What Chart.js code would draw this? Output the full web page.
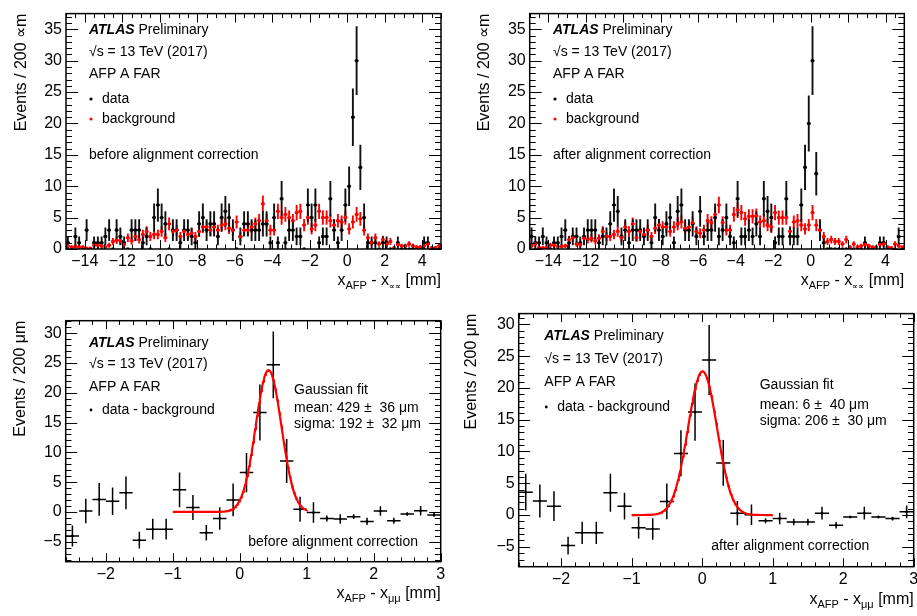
<!DOCTYPE html>
<html>
<head>
<meta charset="utf-8">
<script src="https://cdn.jsdelivr.net/npm/chart.js@4.4.0/dist/chart.umd.min.js"></script>
<style>
body { margin: 0; background: #fff; }
#wrap { position: relative; width: 917px; height: 616px; overflow: hidden; }
canvas { position: absolute; }
</style>
</head>
<body>
<div id="wrap">
  <canvas id="c1" width="458" height="300" style="left:0;top:0"></canvas>
  <canvas id="c2" width="459" height="300" style="left:458px;top:0"></canvas>
  <canvas id="c3" width="458" height="316" style="left:0;top:300px"></canvas>
  <canvas id="c4" width="475" height="316" style="left:458px;top:300px"></canvas>
</div>
<script>
// histogram binning of the top panels (x_AFP - x, 200 um bins)
const topBinStart = -15;
const topBinWidth = 0.2;

// top left: before alignment correction
const beforeData = [1,0,2,1,0,3,0,1,1,1, 2,3,0,3,2,1,0,3,3,3, 1,2,0,5,7,5,4,0,3,3,
  1,3,3,2,1,4,5,3,4,4, 2,5,6,5,3,0,2,4,4,3, 3,3,4,4,1,5,1,8,1,3, 3,2,2,0,7,5,7,1,2,2,
  8,3,1,3,7,10,21,30,13,5, 1,1,1,0,1,1,0,0,1,0, 0,0,0,0,0,1,1,0,0,0];
const beforeBkg = [0.5,0.3,0.4,0.3,0.3,0.1,0.1,0.6,0.6,0.5, 0.3,0.6,1.2,1.4,1.3,0.7,1.8,1.3,2.0,1.5,
  2.3,2.8,2.0,2.3,2.3,2.8,1.8,4.0,2.8,3.0, 2.0,2.8,2.3,2.5,2.0,2.8,3.5,3.5,3.0,3.5,
  3.0,3.8,4.0,3.3,3.0,4.3,2.0,3.0,3.0,3.5, 4.0,4.5,7.2,4.5,3.0,3.0,6.0,5.0,5.5,5.0,
  4.5,5.8,6.0,3.8,5.0,3.2,3.8,6.0,5.0,5.0, 4.5,3.8,4.5,4.3,5.0,3.2,4.3,5.5,4.8,3.0,
  1.8,1.0,1.8,0.8,1.5,0.8,1.2,0.2,0.7,0.5, 0.5,0.8,0.5,0.3,0.3,0.5,0.8,0.2,0.2,0.5];

// top right: after alignment correction
const afterData = [2,1,1,2,1,0,1,1,2,3, 1,2,2,1,2,3,3,3,1,2, 2,4,7,6,2,3,1,3,3,3,
  2,3,1,5,3,2,4,5,1,6, 7,3,3,4,2,6,2,3,3,5, 2,3,5,2,1,8,2,2,3,2, 4,2,8,6,5,1,2,2,8,2,
  2,2,7,13,20,30,12,3,1,0, 0,0,0,0,0,0,0,0,0,1, 0,0,0,1,1,0,0,0,2,0];
const afterBkg = [0.5,0.8,0.2,0.2,0.2,0.6,0.6,0.4,0.4,0.5, 1.5,1.8,0.8,0.7,1.7,1.5,1.7,1.3,1.7,2.8,
  2.0,2.0,2.3,2.8,1.8,3.5,2.8,4.0,1.8,2.8, 2.3,3.0,2.0,3.3,3.8,3.5,3.5,2.8,3.5,4.0,
  4.3,3.3,3.5,4.2,2.8,2.5,3.0,4.5,4.2,5.5, 7.0,4.2,3.0,3.0,5.5,6.2,5.8,4.8,5.2,5.2,
  5.3,4.3,4.5,3.8,3.5,5.8,5.0,5.0,5.0,2.8, 4.3,4.5,3.8,3.2,3.8,5.8,3.8,3.0,2.0,1.2,
  1.5,1.2,1.2,0.8,1.5,0.3,0.8,0.3,0.5,0.7, 0.5,0.3,0.3,0.7,0.8,0.3,0.2,0.8,0.5,0.3];

// bottom: data - background
const subX = [-2.5,-2.3,-2.1,-1.9,-1.7,-1.5,-1.3,-1.1,-0.9,-0.7,-0.5,-0.3,-0.1,0.1,
  0.3,0.5,0.7,0.9,1.1,1.3,1.5,1.7,1.9,2.1,2.3,2.5,2.7,2.9];
const subBefore = [-4.05,0.15,2.1,1.8,3.2,-4.75,-2.9,-2.9,3.7,0.75,-3.5,-1.1,2.0,6.6,
  16.7,24.7,8.55,0.43,-0.1,-1.1,-1.2,-0.8,-1.6,0.15,-1.5,-0.35,0.2,-0.5];
const subBeforeErr = [1.75,2.05,2.75,2.3,2.75,1.4,1.75,1.75,2.9,2.1,1.3,1.9,2.75,3.3,
  4.7,5.6,3.7,2.1,1.7,0.5,0.8,0.4,0.6,0.8,0.5,0.3,0.8,0.3];
const subAfter = [3.6,2.2,1.4,-4.8,-2.8,-2.8,3.5,1.4,-2.0,-2.2,2.15,9.7,16.2,24.4,
  8.2,0.3,0.05,-0.9,-0.55,-1.1,-1.1,0.3,-1.6,-0.3,0.3,-0.3,-0.55,0.5];
const subAfterErr = [2.9,2.6,2.35,1.4,1.75,1.75,3.0,2.1,1.7,1.7,2.8,3.65,4.5,5.5,
  3.6,1.9,1.6,0.4,0.9,0.5,0.5,1.0,0.5,0.2,1.0,0.2,0.3,1.0];

// gaussian fits (mm): [peak, mean, sigma], fitted over [-1, 1]
const fitBefore = [23.8, 0.429, 0.192];
const fitAfter = [22.6, 0.006, 0.206];
const fitRange = [-1, 1];

const topXTicks = [-14,-12,-10,-8,-6,-4,-2,0,2,4];
const topYTicks = [0,5,10,15,20,25,30,35];
const botXTicks = [-2,-1,0,1,2,3];
const botYTicks = [-5,0,5,10,15,20,25,30];

const FONT = '"Liberation Sans", Arial, Helvetica, sans-serif';
Chart.defaults.font.family = FONT;
Chart.defaults.color = '#000';

function binCenters(n) {
  var out = [];
  for (var i = 0; i < n; i++) out.push(topBinStart + topBinWidth * (i + 0.5));
  return out;
}

function gaussPoints(p) {
  var pts = [];
  var n = 200;
  for (var i = 0; i <= n; i++) {
    var x = fitRange[0] + (fitRange[1] - fitRange[0]) * i / n;
    pts.push({ x: x, y: p[0] * Math.exp(-0.5 * Math.pow((x - p[1]) / p[2], 2)) });
  }
  return pts;
}

function drawSegs(ctx, segs, x, y, align) {
  var w = 0;
  segs.forEach(function (s) { ctx.font = s.f; w += ctx.measureText(s.t).width; });
  var cx = align === 'right' ? x - w : x;
  segs.forEach(function (s) {
    ctx.font = s.f;
    ctx.fillStyle = s.c || '#000';
    ctx.fillText(s.t, cx, y + (s.dy || 0));
    cx += ctx.measureText(s.t).width;
  });
}

const atlasPlugin = {
  id: 'atlas',
  beforeDatasetsDraw(chart, args, o) {
    var ctx = chart.ctx, a = chart.chartArea, xs = chart.scales.x, ys = chart.scales.y;
    ctx.save();
    ctx.beginPath();
    ctx.rect(a.left, a.top, a.right - a.left, a.bottom - a.top);
    ctx.clip();
    o.bars.forEach(function (b) {
      ctx.strokeStyle = b.color;
      ctx.lineWidth = b.width;
      ctx.beginPath();
      for (var i = 0; i < b.x.length; i++) {
        if (b.skipZero && b.y[i] === 0) continue;
        var px = xs.getPixelForValue(b.x[i]), py = ys.getPixelForValue(b.y[i]);
        var e = b.err[i];
        if (e > 0) {
          ctx.moveTo(px, ys.getPixelForValue(b.y[i] - e));
          ctx.lineTo(px, ys.getPixelForValue(b.y[i] + e));
        }
        ctx.moveTo(xs.getPixelForValue(b.x[i] - b.hw), py);
        ctx.lineTo(xs.getPixelForValue(b.x[i] + b.hw), py);
      }
      ctx.stroke();
    });
    ctx.restore();
  },
  afterDraw(chart, args, o) {
    var ctx = chart.ctx, a = chart.chartArea, xs = chart.scales.x, ys = chart.scales.y;
    ctx.save();
    // frame and inward ticks on all four sides
    ctx.strokeStyle = '#000';
    ctx.lineWidth = 1.5;
    ctx.strokeRect(a.left, a.top, a.right - a.left, a.bottom - a.top);
    ctx.lineWidth = 1;
    ctx.beginPath();
    var k, v, p, L;
    var k0 = Math.ceil(xs.min / o.xMinor - 1e-6), k1 = Math.floor(xs.max / o.xMinor + 1e-6);
    for (k = k0; k <= k1; k++) {
      v = k * o.xMinor;
      p = Math.round(xs.getPixelForValue(v)) + 0.5;
      L = Math.abs(v / o.xMajor - Math.round(v / o.xMajor)) < 1e-6 ? o.xLen : o.xLen / 2;
      ctx.moveTo(p, a.bottom); ctx.lineTo(p, a.bottom - L);
      ctx.moveTo(p, a.top); ctx.lineTo(p, a.top + L);
    }
    k0 = Math.ceil(ys.min / o.yMinor - 1e-6); k1 = Math.floor(ys.max / o.yMinor + 1e-6);
    for (k = k0; k <= k1; k++) {
      v = k * o.yMinor;
      p = Math.round(ys.getPixelForValue(v)) + 0.5;
      L = Math.abs(v / o.yMajor - Math.round(v / o.yMajor)) < 1e-6 ? o.yLen : o.yLen / 2;
      ctx.moveTo(a.left, p); ctx.lineTo(a.left + L, p);
      ctx.moveTo(a.right, p); ctx.lineTo(a.right - L, p);
    }
    ctx.stroke();

    // labels inside the frame
    ctx.textBaseline = 'alphabetic';
    o.texts.forEach(function (t) { drawSegs(ctx, t.segs, t.x, t.y, t.align); });
    o.marks.forEach(function (m) {
      ctx.fillStyle = m.c;
      ctx.beginPath();
      ctx.arc(m.x, m.y, m.r, 0, Math.PI * 2);
      ctx.fill();
    });

    // axis titles, ROOT style (right / top aligned)
    drawSegs(ctx, o.xTitle, a.right, o.xTitleY, 'right');
    ctx.translate(o.yTitleX, a.top);
    ctx.rotate(-Math.PI / 2);
    drawSegs(ctx, o.yTitle, 0, 0, 'right');
    ctx.restore();
  }
};

function minus(v) { return String(v).replace('-', '\u2212'); }

function makePanel(id, cfg) {
  var canvas = document.getElementById(id);
  var W = canvas.width, H = canvas.height;
  new Chart(canvas.getContext('2d'), {
    type: 'scatter',
    data: { datasets: cfg.datasets },
    options: {
      responsive: false,
      animation: false,
      events: [],
      layout: { autoPadding: false, padding: { top: cfg.area.top, right: W - cfg.area.right, left: 0, bottom: 0 } },
      plugins: { legend: { display: false }, tooltip: { enabled: false }, atlas: cfg.deco },
      scales: {
        x: {
          type: 'linear', min: cfg.xr[0], max: cfg.xr[1],
          grid: { display: false, drawTicks: false },
          border: { display: false },
          afterBuildTicks: function (ax) { ax.ticks = cfg.xTicks.map(function (v) { return { value: v }; }); },
          afterFit: function (ax) { ax.height = H - cfg.area.bottom; },
          ticks: { font: { size: 16 }, padding: 3, maxRotation: 0, autoSkip: false, callback: minus }
        },
        y: {
          type: 'linear', min: cfg.yr[0], max: cfg.yr[1],
          grid: { display: false, drawTicks: false },
          border: { display: false },
          afterBuildTicks: function (ax) { ax.ticks = cfg.yTicks.map(function (v) { return { value: v }; }); },
          afterFit: function (ax) { ax.width = cfg.area.left; },
          ticks: { font: { size: 16 }, padding: 4, autoSkip: false, callback: minus }
        }
      }
    },
    plugins: [atlasPlugin]
  });
}

const F14 = '14px ' + FONT;
const F14B = 'italic bold 14px ' + FONT;
const F16 = '16px ' + FONT;
const F11 = '11px ' + FONT;
const F8 = '8px ' + FONT;

function headerTexts(x, y0, y1, y2) {
  return [
    { x: x, y: y0, segs: [{ t: 'ATLAS', f: F14B }, { t: ' Preliminary', f: F14 }] },
    { x: x, y: y1, segs: [{ t: '\u221as = 13 TeV (2017)', f: F14 }] },
    { x: x, y: y2, segs: [{ t: 'AFP A FAR', f: F14 }] }
  ];
}

function topPanel(id, data, bkg, label, area, tx, ytX) {
  var xc = binCenters(data.length);
  var dataErr = data.map(function (n) { return Math.sqrt(n); });
  var bkgErr = bkg.map(function (n) { return Math.sqrt(n) / 2; });
  var texts = headerTexts(tx, 34, 56, 78).concat([
    { x: tx + 13, y: 103, segs: [{ t: 'data', f: F14 }] },
    { x: tx + 13, y: 123, segs: [{ t: 'background', f: F14 }] },
    { x: tx, y: 159, segs: [{ t: label, f: F14 }] }
  ]);
  makePanel(id, {
    area: area, xr: [-15, 5], yr: [0, 37.5], xTicks: topXTicks, yTicks: topYTicks,
    datasets: [
      { data: xc.map(function (x, i) { return { x: x, y: bkg[i] }; }), backgroundColor: '#ff0000', borderColor: '#ff0000', pointRadius: 1.8, borderWidth: 0 },
      { data: xc.map(function (x, i) { return { x: x, y: data[i] }; }), backgroundColor: '#000', borderColor: '#000', pointRadius: 1.8, borderWidth: 0 }
    ],
    deco: {
      bars: [
        { x: xc, y: bkg, err: bkgErr, hw: topBinWidth / 2, color: '#ff0000', width: 1.9 },
        { x: xc, y: data, err: dataErr, hw: topBinWidth / 2, color: '#111', width: 1.9, skipZero: true }
      ],
      xMinor: 0.5, xMajor: 2, xLen: 9, yMinor: 1, yMajor: 5, yLen: 12,
      texts: texts,
      marks: [{ x: tx + 2, y: 99, r: 1.6, c: '#000' }, { x: tx + 2, y: 119, r: 1.6, c: '#ff0000' }],
      xTitle: [{ t: 'x', f: F16 }, { t: 'AFP', f: F11, dy: 4 }, { t: ' - x', f: F16 }, { t: '\u221d\u221d', f: F8, dy: 4 }, { t: ' [mm]', f: F16 }],
      xTitleY: 285,
      yTitle: [{ t: 'Events / 200 \u221dm', f: F16 }],
      yTitleX: ytX
    }
  });
}

function bottomPanel(id, vals, errs, fit, label, area, yr, tx, hy, gx, gy, lx, ly, ytX, xtY) {
  var texts = headerTexts(tx, hy[0], hy[1], hy[2]).concat([
    { x: tx + 13, y: hy[3], segs: [{ t: 'data - background', f: F14 }] },
    { x: gx, y: gy[0], segs: [{ t: 'Gaussian fit', f: F14 }] },
    { x: gx, y: gy[1], segs: [{ t: 'mean: ' + Math.round(fit[1] * 1000) + ' \u00b1  ' + label.meanErr + ' \u03bcm', f: F14 }] },
    { x: gx, y: gy[2], segs: [{ t: 'sigma: ' + Math.round(fit[2] * 1000) + ' \u00b1  ' + label.sigmaErr + ' \u03bcm', f: F14 }] },
    { x: lx, y: ly, segs: [{ t: label.text, f: F14 }] }
  ]);
  makePanel(id, {
    area: area, xr: [-2.6, 3], yr: yr, xTicks: botXTicks, yTicks: botYTicks,
    datasets: [
      { data: gaussPoints(fit), showLine: true, borderColor: '#ff0000', borderWidth: 2.2, pointRadius: 0, tension: 0 },
      { data: subX.map(function (x, i) { return { x: x, y: vals[i] }; }), backgroundColor: '#000', pointRadius: 1.3, borderWidth: 0 }
    ],
    deco: {
      bars: [{ x: subX, y: vals, err: errs, hw: 0.1, color: '#000', width: 1.5 }],
      xMinor: 0.2, xMajor: 1, xLen: 8.5, yMinor: 1, yMajor: 5, yLen: 11.5,
      texts: texts,
      marks: [{ x: tx + 2, y: hy[3] - 4, r: 1.4, c: '#000' }],
      xTitle: [{ t: 'x', f: F16 }, { t: 'AFP', f: F11, dy: 4 }, { t: ' - x', f: F16 }, { t: '\u03bc\u03bc', f: F11, dy: 4 }, { t: ' [mm]', f: F16 }],
      xTitleY: xtY,
      yTitle: [{ t: 'Events / 200 \u03bcm', f: F16 }],
      yTitleX: ytX
    }
  });
}

topPanel('c1', beforeData, beforeBkg, 'before alignment correction',
  { left: 66, right: 441, top: 7, bottom: 249 }, 89, 25.5);
topPanel('c2', afterData, afterBkg, 'after alignment correction',
  { left: 71.7, right: 446.3, top: 7, bottom: 249 }, 95, 30.7);

bottomPanel('c3', subBefore, subBeforeErr, fitBefore,
  { text: 'before alignment correction', meanErr: 36, sigmaErr: 32 },
  { left: 65.7, right: 440.7, top: 20.7, bottom: 261.7 }, [-8.36, 32.1],
  89, [46.7, 68, 90.7, 114], 294, [94, 112.3, 128.3], 248.3, 245.7, 25, 297.7);
bottomPanel('c4', subAfter, subAfterErr, fitAfter,
  { text: 'after alignment correction', meanErr: 40, sigmaErr: 30 },
  { left: 60.7, right: 455.7, top: 12.3, bottom: 266.7 }, [-8.13, 31.7],
  86.3, [40, 63.3, 85.7, 111], 301.7, [89.3, 109, 125], 253.3, 250, 17.6, 304.3);
</script>
</body>
</html>
